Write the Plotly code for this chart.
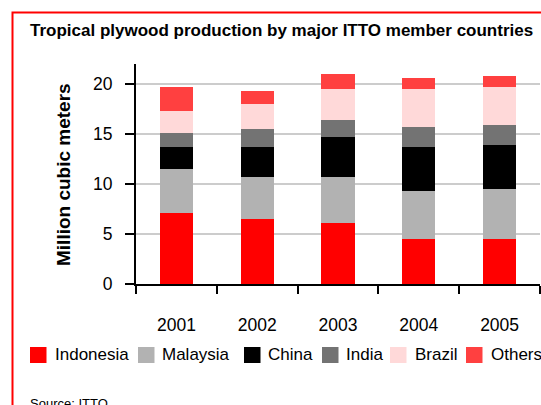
#!/usr/bin/env python3
"""Stacked bar chart: tropical plywood production by major ITTO member countries."""
import plotly.graph_objects as go

YEARS = ["2001", "2002", "2003", "2004", "2005"]
COUNTRIES = ["Indonesia", "Malaysia", "China", "India", "Brazil", "Others"]

# million cubic metres
INDONESIA = [7.1, 6.5, 6.1, 4.5, 4.5]
MALAYSIA = [4.4, 4.2, 4.6, 4.8, 5.0]
CHINA = [2.2, 3.0, 4.0, 4.4, 4.4]
INDIA = [1.4, 1.8, 1.7, 2.0, 2.0]
BRAZIL = [2.2, 2.5, 3.1, 3.8, 3.8]
OTHERS = [2.4, 1.3, 1.5, 1.1, 1.1]
SERIES = [INDONESIA, MALAYSIA, CHINA, INDIA, BRAZIL, OTHERS]

COLORS = ["#ff0000", "#b2b2b2", "#000000", "#737373", "#ffd9d9", "#ff4040"]

W, H = 541, 405
PLOT_L, PLOT_R, PLOT_T, PLOT_B = 136, 540, 64, 284
FONT = "Liberation Sans, Arial, sans-serif"

# hand-placed legend (square left edge, text left edge), in pixels
LEGEND_SQ_X = [30, 138, 244, 322, 390, 466]
LEGEND_TXT_X = [53, 160, 266, 344, 413, 489]
LEGEND_Y = 355


def px_x(px: float) -> float:
    return (px - PLOT_L) / (PLOT_R - PLOT_L)


def px_y(py: float) -> float:
    return (PLOT_B - py) / (PLOT_B - PLOT_T)


fig = go.Figure()
for name, vals, color in zip(COUNTRIES, SERIES, COLORS):
    fig.add_trace(
        go.Bar(x=YEARS, y=vals, name=name, marker=dict(color=color, line=dict(width=0)))
    )

shapes = [
    # red frame round the chart, open to the right and bottom
    dict(
        type="rect", xref="paper", yref="paper",
        x0=px_x(12.5), x1=px_x(580), y0=px_y(440), y1=px_y(12.5),
        line=dict(color="#ff0000", width=2), fillcolor="rgba(0,0,0,0)", layer="above",
    )
]
annotations = [
    dict(
        text="<b>Tropical plywood production by major ITTO member countries</b>",
        xref="paper", yref="paper", x=px_x(28), y=px_y(30),
        xanchor="left", yanchor="middle", showarrow=False,
        font=dict(family=FONT, size=17, color="#000000"),
    ),
    dict(
        text="<b>Million cubic meters</b>",
        xref="paper", yref="paper", x=px_x(63), y=px_y(175),
        xanchor="center", yanchor="middle", textangle=-90, showarrow=False,
        font=dict(family=FONT, size=19, color="#000000"),
    ),
    dict(
        text="Source: ITTO",
        xref="paper", yref="paper", x=px_x(28), y=px_y(403),
        xanchor="left", yanchor="middle", showarrow=False,
        font=dict(family=FONT, size=13, color="#000000"),
    ),
]
for name, color, sx, tx in zip(COUNTRIES, COLORS, LEGEND_SQ_X, LEGEND_TXT_X):
    shapes.append(
        dict(
            type="rect", xref="paper", yref="paper",
            x0=px_x(sx), x1=px_x(sx + 16.5), y0=px_y(LEGEND_Y + 8), y1=px_y(LEGEND_Y - 8),
            line=dict(width=0), fillcolor=color,
        )
    )
    annotations.append(
        dict(
            text=name, xref="paper", yref="paper", x=px_x(tx), y=px_y(LEGEND_Y - 1),
            xanchor="left", yanchor="middle", showarrow=False,
            font=dict(family=FONT, size=17, color="#000000"),
        )
    )

fig.update_layout(
    width=W,
    height=H,
    margin=dict(l=PLOT_L, r=W - PLOT_R, t=PLOT_T, b=H - PLOT_B, pad=0),
    paper_bgcolor="#ffffff",
    plot_bgcolor="#ffffff",
    barmode="stack",
    bargap=0.59,
    showlegend=False,
    shapes=shapes,
    annotations=annotations,
)
fig.update_xaxes(
    type="category",
    showline=True, linecolor="#000000", linewidth=2,
    ticks="outside", tickson="boundaries", ticklen=8, tickwidth=2, tickcolor="#000000",
    showgrid=False,
    tickfont=dict(family=FONT, size=17.5, color="#000000"),
    ticklabelstandoff=24,
)
fig.update_yaxes(
    range=[0, 22],
    tickvals=[0, 5, 10, 15, 20],
    showline=True, linecolor="#000000", linewidth=2,
    ticks="outside", ticklen=9, tickwidth=2, tickcolor="#000000",
    showgrid=True, gridcolor="#cccccc", gridwidth=2,
    zeroline=False,
    tickfont=dict(family=FONT, size=17.5, color="#000000"),
    ticklabelstandoff=9,
)

# drop the browser's default 8px body margin so the figure sits flush at the top-left
fig.write_html(
    "out.html",
    config={"displayModeBar": False},
    post_script="document.body.style.margin = '0';",
)
